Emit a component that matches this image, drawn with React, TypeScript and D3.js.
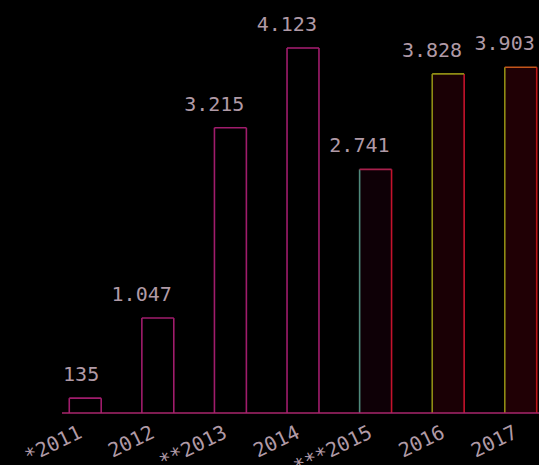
import React from "react";
import * as d3 from "d3";

// Annual figures (German thousands separator in the labels)
const years = ["2011", "2012", "2013", "2014", "2015", "2016", "2017"];
const tickLabels = ["*2011", "2012", "**2013", "2014", "***2015", "2016", "2017"];
const values = [135, 1047, 3215, 4123, 2741, 3828, 3903];

// Edge colours per bar: fill, left, top, right
const barFills = ["none", "none", "none", "none", "#0e0006", "#1a0005", "#200005"];
const leftEdges = ["#a01c6c", "#a01c6c", "#a01c6c", "#a01c6c", "#4f8a7c", "#8f8c14", "#8f8c14"];
const topEdges = ["#a01c6c", "#a01c6c", "#a01c6c", "#a01c6c", "#a8204c", "#8f8c14", "#c4561a"];
const rightEdges = ["#a01c6c", "#a01c6c", "#a01c6c", "#a01c6c", "#c4122c", "#c4122c", "#b81418"];

const W = 539;
const H = 465;
const AXIS_Y = 413;
const FONT = "'DejaVu Sans Mono', monospace";
const TEXT = "#b09aa6";

const fmt = d3.formatLocale({ decimal: ",", thousands: ".", grouping: [3], currency: ["", "€"] }).format(",d");

export default function App() {
  const x = d3.scaleBand<string>().domain(years).range([62, 544]).paddingInner(0.56).paddingOuter(0.1);
  const y = d3.scaleLinear().domain([0, 4123]).range([410, 48]);
  const bw = x.bandwidth();

  return (
    <div style={{ position: "fixed", inset: 0, background: "#000" }}>
      <svg width={W} height={H} style={{ display: "block" }}>
        <rect width={W} height={H} fill="#000" />
        {years.map((yr, i) => {
          const x0 = x(yr)!;
          const x1 = x0 + bw;
          const top = y(values[i]);
          return (
            <g key={yr}>
              {barFills[i] !== "none" && (
                <rect x={x0} y={top} width={bw} height={AXIS_Y - top} fill={barFills[i]} />
              )}
              <line x1={x0} x2={x0} y1={top} y2={AXIS_Y} stroke={leftEdges[i]} strokeWidth={1.6} />
              <line x1={x1} x2={x1} y1={top} y2={AXIS_Y} stroke={rightEdges[i]} strokeWidth={1.6} />
              <line x1={x0} x2={x1} y1={top} y2={top} stroke={topEdges[i]} strokeWidth={1.6} />
              <text
                x={x1 - 2}
                y={top - 17}
                textAnchor="end"
                fontFamily={FONT}
                fontSize={20}
                fill={TEXT}
              >
                {fmt(values[i])}
              </text>
            </g>
          );
        })}
        <line x1={62} x2={W} y1={AXIS_Y} y2={AXIS_Y} stroke="#a8266c" strokeWidth={1.6} />
        {years.map((yr, i) => {
          const cx = x(yr)! + bw / 2 - 2;
          return (
            <text
              key={"t" + yr}
              transform={`translate(${cx},437) rotate(-26)`}
              textAnchor="end"
              fontFamily={FONT}
              fontSize={20}
              fill={TEXT}
            >
              {tickLabels[i]}
            </text>
          );
        })}
      </svg>
    </div>
  );
}
